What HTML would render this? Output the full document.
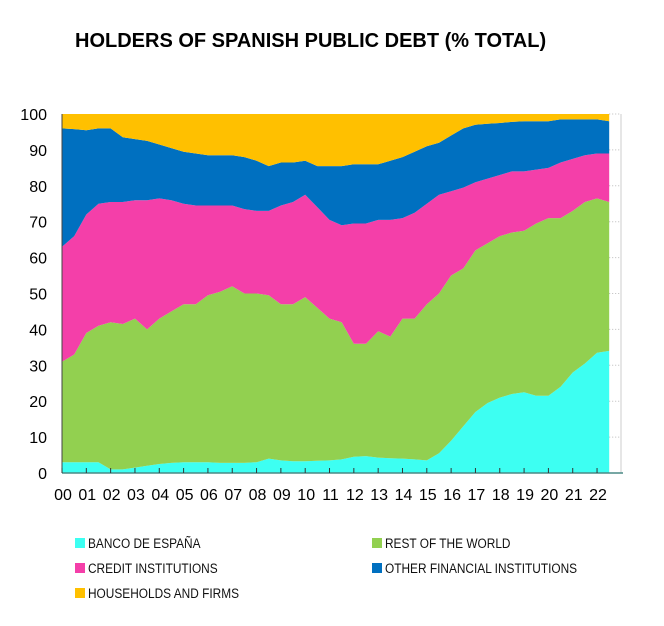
<!DOCTYPE html>
<html><head><meta charset="utf-8"><style>
body{margin:0;background:#fff;width:664px;height:626px;overflow:hidden;font-family:"Liberation Sans",sans-serif}
svg{position:absolute;left:0;top:0}
</style></head><body>
<svg id="chart" width="664" height="626">
<text x="75" y="47" font-size="20" font-weight="bold" fill="#000">HOLDERS OF SPANISH PUBLIC DEBT (% TOTAL)</text>
<g id="grid"></g><g id="areas"></g><g id="axes"></g><g id="legend"></g>
</svg>
<script>
const years = ["00","01","02","03","04","05","06","07","08","09","10","11","12","13","14","15","16","17","18","19","20","21","22"];
const yTicks = [0,10,20,30,40,50,60,70,80,90,100];
// half-year observations from 2000.0 to 2022.5
const bancoEspana = [3,3,3,3,1,1,1.5,2,2.5,2.8,3,3,3,2.8,2.8,2.8,3,4,3.5,3.3,3.3,3.4,3.5,3.8,4.5,4.7,4.3,4.1,4,3.8,3.5,5.5,9,13,17,19.5,21,22,22.5,21.5,21.5,24,28,30.5,33.5,34];
const restOfWorld = [28,30,36,38,41,40.5,41.5,38,40.5,42.2,44,44,46.5,47.7,49.2,47.2,47,45.5,43.5,43.7,45.7,42.6,39.5,38.2,31.5,31.3,35.2,33.9,39,39.2,43.5,44.5,46,44,45,44.5,45,45,45,48,49.5,47,45,45,43,41.5];
const creditInst = [32,33,33,34,33.5,34,33,36,33.5,31,28,27.5,25,24,22.5,23.5,23,23.5,27.5,28.5,28.5,28,27.5,27,33.5,33.5,31,32.5,28,29.5,28,27.5,23.5,22.5,19,18,17,17,16.5,15,14,15.5,14.5,13,12.5,13.5];
const otherFinancial = [33,29.8,23.5,21,20.5,18,17,16.5,15,14.5,14.5,14.5,14,14,14,14.5,14,12.5,12,11,9.5,11.5,15,16.5,16.5,16.5,15.5,16.5,17,17,16,14.5,15.5,16.5,16,15.3,14.5,13.8,14,13.5,13,12,11,10,9.5,9];
const households = [4,4.2,4.5,4,4,6.5,7,7.5,8.5,9.5,10.5,11,11.5,11.5,11.5,12,13,14.5,13.5,13.5,13,14.5,14.5,14.5,14,14,14,13,12,10.5,9,8,6,4,3,2.7,2.5,2.2,2,2,2,1.5,1.5,1.5,1.5,2];
const seriesNames = ["BANCO DE ESPAÑA","REST OF THE WORLD","CREDIT INSTITUTIONS","OTHER FINANCIAL INSTITUTIONS","HOUSEHOLDS AND FIRMS"];

const NS="http://www.w3.org/2000/svg";
const X0=62, YR=24.32, Y0=473, Y100=114;
const xS=t=>X0+t*YR;
const yS=v=>Y0-(v/100)*(Y0-Y100);
function mk(tag,attrs,parent){const e=document.createElementNS(NS,tag);for(const k in attrs)e.setAttribute(k,attrs[k]);parent.appendChild(e);return e;}

const series=[bancoEspana,restOfWorld,creditInst,otherFinancial,households];
const colors=["#3DFFF2","#92D050","#F43FA9","#0070C0","#FFC000"];
const keys=["banco-de-espana","rest-of-world","credit-institutions","other-financial","households-firms"];
const areas=document.getElementById('areas');
const n=bancoEspana.length;
let base=new Array(n).fill(0);
series.forEach((s,i)=>{
  const top=base.map((b,j)=>b+s[j]);
  let pts=[];
  for(let j=0;j<n;j++)pts.push(xS(j*0.5).toFixed(1)+","+yS(top[j]).toFixed(1));
  for(let j=n-1;j>=0;j--)pts.push(xS(j*0.5).toFixed(1)+","+yS(base[j]).toFixed(1));
  const p=mk('polygon',{points:pts.join(" "),fill:colors[i]},areas);
  
  
  base=top;
});

const grid=document.getElementById('grid');
const xEnd=xS((n-1)*0.5), xR=621;
yTicks.forEach(v=>{
  const l=mk('line',{x1:xEnd,x2:xR,y1:yS(v),y2:yS(v),stroke:"#bbb","stroke-dasharray":"1,2"},grid);
  
  
});
const axes=document.getElementById('axes');
let a=mk('line',{x1:xR,x2:xR,y1:Y100,y2:Y0,stroke:"#ccc"},axes);


a=mk('line',{x1:X0,x2:X0,y1:Y100,y2:Y0,stroke:"#444"},axes);


a=mk('line',{x1:X0,x2:xR+2,y1:Y0,y2:Y0,stroke:"#4a8a86","stroke-width":1.5},axes);


yTicks.forEach(v=>{
  const t=mk('text',{x:47,y:yS(v)+6,"text-anchor":"end","font-size":16,fill:"#000"},axes);
  t.textContent=v;
  
  
});
years.forEach((y,i)=>{
  const tk=mk('line',{x1:xS(i),x2:xS(i),y1:Y0,y2:Y0-5,stroke:"#333"},axes);
  
  
  const t=mk('text',{x:xS(i)+1,y:500,"text-anchor":"middle","font-size":16,fill:"#000"},axes);
  t.textContent=y;
  
  
});

const leg=document.getElementById('legend');
const pos=[[75,543],[372,543],[75,568],[372,568],[75,593]];
const order=[0,1,2,3,4];
order.forEach((i,k)=>{
  const [lx,ly]=pos[k];
  const g=mk('g',{},leg);
  
  
  mk('rect',{x:lx,y:ly-5,width:10,height:10,fill:colors[i]},g);
  const t=mk('text',{x:lx+13,y:ly+5,"font-size":13.5,fill:"#111"},g);
  t.setAttribute('transform','translate('+(lx+13)+',0) scale(0.88,1) translate('+(-(lx+13))+',0)');
  t.textContent=seriesNames[i];
});
</script>
</body></html>
